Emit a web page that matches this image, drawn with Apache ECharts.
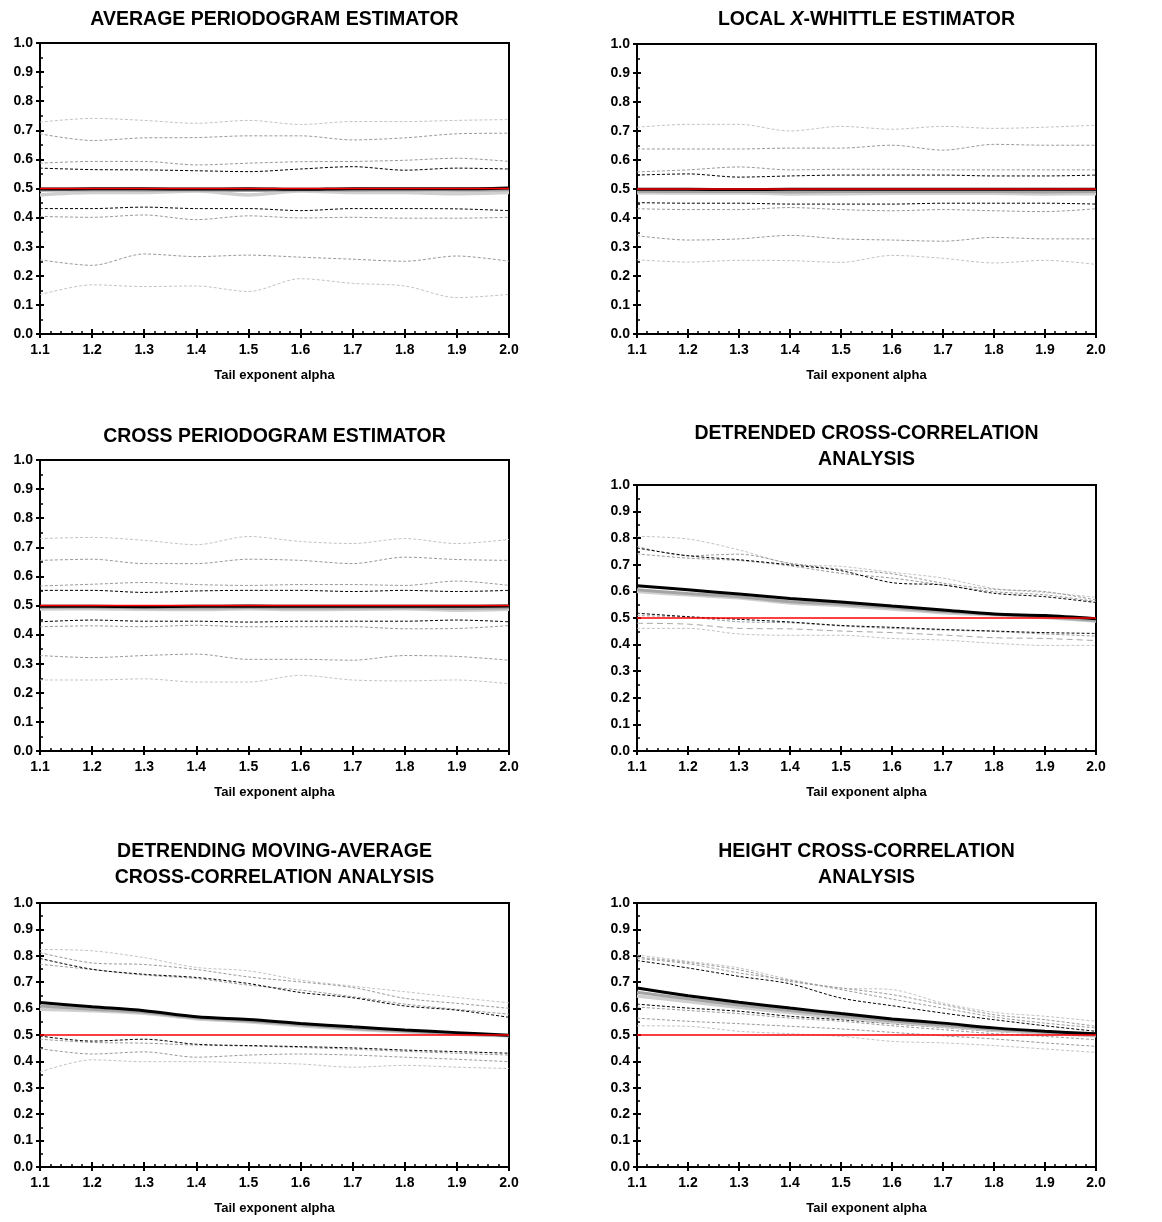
<!DOCTYPE html>
<html>
<head>
<meta charset="utf-8">
<script src="https://cdn.jsdelivr.net/npm/echarts@6/dist/echarts.min.js"></script>
<style>
html,body{margin:0;padding:0;background:#fff;}
#chart{width:1162px;height:1222px;}
</style>
</head>
<body>
<div id="chart"></div>
<script>
// ---------------- DATA ----------------
const ALPHA = [1.1, 1.2, 1.3, 1.4, 1.5, 1.6, 1.7, 1.8, 1.9, 2.0];
const TRUE_VALUE = [0.5, 0.5, 0.5, 0.5, 0.5, 0.5, 0.5, 0.5, 0.5, 0.5];
const X_AXIS_NAME = 'Tail exponent alpha';

// Average periodogram estimator
const APE_MEAN = [0.498, 0.499, 0.499, 0.498, 0.499, 0.497, 0.499, 0.499, 0.499, 0.502];
const APE_MED  = [0.494, 0.495, 0.494, 0.495, 0.493, 0.495, 0.494, 0.495, 0.494, 0.496];
const APE_ALT  = [0.478, 0.486, 0.486, 0.491, 0.478, 0.491, 0.486, 0.486, 0.482, 0.486];
const APE_U1 = [0.728, 0.741, 0.734, 0.724, 0.734, 0.720, 0.730, 0.730, 0.734, 0.737];
const APE_U2 = [0.688, 0.665, 0.674, 0.675, 0.681, 0.681, 0.667, 0.674, 0.688, 0.690];
const APE_U3 = [0.587, 0.593, 0.593, 0.581, 0.587, 0.592, 0.593, 0.597, 0.604, 0.593];
const APE_U4 = [0.570, 0.565, 0.564, 0.561, 0.558, 0.567, 0.575, 0.563, 0.570, 0.567];
const APE_L1 = [0.431, 0.431, 0.436, 0.431, 0.431, 0.424, 0.431, 0.431, 0.430, 0.424];
const APE_L2 = [0.404, 0.401, 0.409, 0.393, 0.406, 0.399, 0.401, 0.398, 0.398, 0.401];
const APE_L3 = [0.255, 0.236, 0.275, 0.266, 0.271, 0.264, 0.257, 0.250, 0.268, 0.250];
const APE_L4 = [0.135, 0.169, 0.163, 0.165, 0.146, 0.190, 0.174, 0.165, 0.125, 0.136];

// Local X-Whittle estimator
const LXW_MEAN = [0.499, 0.499, 0.498, 0.499, 0.499, 0.499, 0.499, 0.499, 0.499, 0.499];
const LXW_MED  = [0.492, 0.491, 0.492, 0.490, 0.491, 0.491, 0.492, 0.491, 0.490, 0.491];
const LXW_ALT  = [0.487, 0.486, 0.487, 0.483, 0.484, 0.485, 0.486, 0.485, 0.483, 0.484];
const LXW_U1 = [0.713, 0.723, 0.723, 0.700, 0.716, 0.706, 0.716, 0.709, 0.713, 0.720];
const LXW_U2 = [0.638, 0.638, 0.638, 0.641, 0.641, 0.651, 0.634, 0.654, 0.651, 0.651];
const LXW_U3 = [0.559, 0.566, 0.576, 0.566, 0.568, 0.568, 0.566, 0.566, 0.566, 0.566];
const LXW_U4 = [0.548, 0.552, 0.541, 0.545, 0.548, 0.548, 0.548, 0.545, 0.545, 0.548];
const LXW_L1 = [0.453, 0.451, 0.451, 0.448, 0.448, 0.448, 0.451, 0.451, 0.451, 0.448];
const LXW_L2 = [0.432, 0.429, 0.429, 0.436, 0.429, 0.425, 0.429, 0.425, 0.422, 0.432];
const LXW_L3 = [0.339, 0.324, 0.328, 0.340, 0.328, 0.324, 0.320, 0.333, 0.328, 0.328];
const LXW_L4 = [0.256, 0.248, 0.254, 0.253, 0.247, 0.271, 0.261, 0.245, 0.254, 0.240];

// Cross periodogram estimator
const CPE_MEAN = [0.497, 0.497, 0.496, 0.497, 0.498, 0.497, 0.497, 0.497, 0.497, 0.498];
const CPE_MED  = [0.493, 0.494, 0.492, 0.491, 0.493, 0.491, 0.492, 0.493, 0.490, 0.492];
const CPE_ALT  = [0.488, 0.489, 0.487, 0.486, 0.489, 0.486, 0.487, 0.489, 0.484, 0.487];
const CPE_U1 = [0.730, 0.734, 0.724, 0.709, 0.737, 0.720, 0.713, 0.730, 0.713, 0.727];
const CPE_U2 = [0.655, 0.659, 0.644, 0.644, 0.659, 0.655, 0.644, 0.666, 0.658, 0.655];
const CPE_U3 = [0.567, 0.573, 0.579, 0.572, 0.569, 0.572, 0.572, 0.569, 0.584, 0.569];
const CPE_U4 = [0.552, 0.552, 0.545, 0.550, 0.552, 0.552, 0.548, 0.552, 0.548, 0.552];
const CPE_L1 = [0.444, 0.450, 0.446, 0.446, 0.443, 0.446, 0.446, 0.446, 0.450, 0.444];
const CPE_L2 = [0.427, 0.430, 0.427, 0.432, 0.427, 0.427, 0.427, 0.420, 0.421, 0.431];
const CPE_L3 = [0.328, 0.321, 0.328, 0.333, 0.315, 0.315, 0.312, 0.328, 0.325, 0.312];
const CPE_L4 = [0.244, 0.244, 0.248, 0.237, 0.237, 0.260, 0.244, 0.241, 0.244, 0.231];

// Detrended cross-correlation analysis
const DCCA_MEAN = [0.621, 0.606, 0.590, 0.573, 0.560, 0.545, 0.530, 0.515, 0.509, 0.497];
const DCCA_MED  = [0.606, 0.592, 0.580, 0.561, 0.552, 0.539, 0.524, 0.514, 0.504, 0.491];
const DCCA_ALT  = [0.600, 0.587, 0.576, 0.556, 0.547, 0.534, 0.520, 0.512, 0.502, 0.489];
const DCCA_U1 = [0.807, 0.797, 0.756, 0.704, 0.694, 0.672, 0.650, 0.611, 0.596, 0.578];
const DCCA_U2 = [0.769, 0.734, 0.740, 0.706, 0.683, 0.666, 0.631, 0.608, 0.599, 0.568];
const DCCA_U3 = [0.763, 0.734, 0.719, 0.700, 0.678, 0.633, 0.624, 0.593, 0.580, 0.558];
const DCCA_U4 = [0.741, 0.725, 0.716, 0.696, 0.668, 0.650, 0.624, 0.599, 0.587, 0.562];
const DCCA_L1 = [0.518, 0.505, 0.495, 0.485, 0.472, 0.465, 0.457, 0.451, 0.445, 0.442];
const DCCA_L2 = [0.509, 0.503, 0.486, 0.482, 0.470, 0.461, 0.455, 0.449, 0.440, 0.432];
const DCCA_L3 = [0.480, 0.477, 0.461, 0.459, 0.451, 0.445, 0.436, 0.426, 0.423, 0.415];
const DCCA_L4 = [0.461, 0.461, 0.440, 0.435, 0.435, 0.423, 0.417, 0.405, 0.397, 0.397];

// Detrending moving-average cross-correlation analysis
const DMCA_MEAN = [0.623, 0.607, 0.592, 0.569, 0.559, 0.544, 0.531, 0.519, 0.509, 0.499];
const DMCA_MED  = [0.610, 0.598, 0.586, 0.565, 0.553, 0.539, 0.525, 0.515, 0.505, 0.497];
const DMCA_ALT  = [0.598, 0.592, 0.582, 0.562, 0.550, 0.535, 0.522, 0.512, 0.503, 0.497];
const DMCA_U1 = [0.824, 0.819, 0.793, 0.756, 0.743, 0.708, 0.685, 0.664, 0.642, 0.622];
const DMCA_U2 = [0.812, 0.773, 0.767, 0.748, 0.720, 0.701, 0.680, 0.639, 0.620, 0.601];
const DMCA_U3 = [0.790, 0.749, 0.730, 0.718, 0.695, 0.661, 0.641, 0.610, 0.594, 0.567];
const DMCA_U4 = [0.768, 0.748, 0.727, 0.714, 0.689, 0.670, 0.645, 0.617, 0.597, 0.579];
const DMCA_L1 = [0.496, 0.477, 0.484, 0.465, 0.460, 0.456, 0.451, 0.443, 0.437, 0.431];
const DMCA_L2 = [0.484, 0.472, 0.469, 0.462, 0.458, 0.453, 0.446, 0.438, 0.431, 0.424];
const DMCA_L3 = [0.448, 0.428, 0.436, 0.416, 0.424, 0.428, 0.424, 0.416, 0.408, 0.399];
const DMCA_L4 = [0.360, 0.406, 0.399, 0.399, 0.395, 0.390, 0.378, 0.385, 0.378, 0.373];

// Height cross-correlation analysis
const HXA_MEAN = [0.678, 0.649, 0.624, 0.602, 0.581, 0.561, 0.545, 0.527, 0.514, 0.505];
const HXA_MED  = [0.662, 0.637, 0.614, 0.593, 0.572, 0.554, 0.538, 0.522, 0.510, 0.499];
const HXA_ALT  = [0.648, 0.627, 0.605, 0.585, 0.566, 0.548, 0.533, 0.518, 0.507, 0.497];
const HXA_U1 = [0.803, 0.779, 0.754, 0.710, 0.678, 0.672, 0.621, 0.586, 0.571, 0.552];
const HXA_U2 = [0.795, 0.775, 0.747, 0.703, 0.678, 0.653, 0.615, 0.577, 0.558, 0.533];
const HXA_U3 = [0.790, 0.770, 0.735, 0.707, 0.672, 0.636, 0.602, 0.568, 0.545, 0.527];
const HXA_U4 = [0.782, 0.754, 0.722, 0.694, 0.640, 0.611, 0.583, 0.558, 0.535, 0.514];
const HXA_L1 = [0.617, 0.602, 0.590, 0.571, 0.558, 0.543, 0.529, 0.514, 0.505, 0.497];
const HXA_L2 = [0.606, 0.593, 0.581, 0.564, 0.552, 0.535, 0.520, 0.505, 0.495, 0.482];
const HXA_L3 = [0.564, 0.552, 0.543, 0.533, 0.523, 0.510, 0.497, 0.485, 0.470, 0.457];
const HXA_L4 = [0.535, 0.533, 0.514, 0.505, 0.495, 0.476, 0.470, 0.460, 0.447, 0.434];

const TITLES = [
  'AVERAGE PERIODOGRAM ESTIMATOR',
  'LOCAL X-WHITTLE ESTIMATOR',
  'CROSS PERIODOGRAM ESTIMATOR',
  'DETRENDED CROSS-CORRELATION\nANALYSIS',
  'DETRENDING MOVING-AVERAGE\nCROSS-CORRELATION ANALYSIS',
  'HEIGHT CROSS-CORRELATION\nANALYSIS'
];

// ---------------- LAYOUT / STYLE ----------------
const TEXT_FONT = 'Liberation Sans';
const GRIDS = [
  {left: 40,  top: 43,  width: 469, height: 291},
  {left: 637, top: 44,  width: 459, height: 290},
  {left: 40,  top: 460, width: 469, height: 291},
  {left: 637, top: 485, width: 459, height: 266},
  {left: 40,  top: 903, width: 469, height: 264},
  {left: 637, top: 903, width: 459, height: 264}
];
const TITLE_TOPS = [7, 7, 424, 421, 839, 839];

const PANELS = [
  {mean: APE_MEAN, med: APE_MED, alt: APE_ALT, q: [APE_U1, APE_U2, APE_U3, APE_U4, APE_L1, APE_L2, APE_L3, APE_L4],
   roles: ['light', 'gray', 'gray', 'black', 'black', 'gray', 'gray', 'light']},
  {mean: LXW_MEAN, med: LXW_MED, alt: LXW_ALT, q: [LXW_U1, LXW_U2, LXW_U3, LXW_U4, LXW_L1, LXW_L2, LXW_L3, LXW_L4],
   roles: ['light', 'gray', 'gray', 'black', 'black', 'gray', 'gray', 'light']},
  {mean: CPE_MEAN, med: CPE_MED, alt: CPE_ALT, q: [CPE_U1, CPE_U2, CPE_U3, CPE_U4, CPE_L1, CPE_L2, CPE_L3, CPE_L4],
   roles: ['light', 'gray', 'gray', 'black', 'black', 'gray', 'gray', 'light']},
  {mean: DCCA_MEAN, med: DCCA_MED, alt: DCCA_ALT, q: [DCCA_U1, DCCA_U2, DCCA_U3, DCCA_U4, DCCA_L1, DCCA_L2, DCCA_L3, DCCA_L4],
   roles: ['light', 'gray', 'black', 'gray', 'black', 'gray', 'long', 'light']},
  {mean: DMCA_MEAN, med: DMCA_MED, alt: DMCA_ALT, q: [DMCA_U1, DMCA_U2, DMCA_U3, DMCA_U4, DMCA_L1, DMCA_L2, DMCA_L3, DMCA_L4],
   roles: ['light', 'gray', 'black', 'gray', 'black', 'gray', 'gray', 'light']},
  {mean: HXA_MEAN, med: HXA_MED, alt: HXA_ALT, q: [HXA_U1, HXA_U2, HXA_U3, HXA_U4, HXA_L1, HXA_L2, HXA_L3, HXA_L4],
   roles: ['light', 'gray', 'gray', 'black', 'black', 'gray', 'gray', 'light']}
];

const ROLE_STYLE = {
  black: {color: '#000000', width: 1, type: [3, 2]},
  gray:  {color: '#9a9a9a', width: 1, type: [3, 2]},
  long:  {color: '#a8a8a8', width: 1, type: [6, 4]},
  light: {color: '#c4c4c4', width: 1, type: [3, 2]}
};

const pairs = arr => ALPHA.map((a, i) => [a, arr[i]]);

const title = [], grid = [], xAxis = [], yAxis = [], series = [];

PANELS.forEach((p, k) => {
  const g = GRIDS[k];
  grid.push({left: g.left, top: g.top, width: g.width, height: g.height,
    show: true, borderColor: '#000', borderWidth: 2, backgroundColor: 'transparent', containLabel: false});

  const cx = g.left + g.width / 2;
  if (k === 1) {
    title.push({
      text: '{b|LOCAL }{i|X}{b|-WHITTLE ESTIMATOR}',
      left: cx, top: TITLE_TOPS[k], textAlign: 'center', padding: 0,
      textStyle: {lineHeight: 26, rich: {
        b: {fontFamily: TEXT_FONT, fontWeight: 'bold', fontSize: 19.5, color: '#000', lineHeight: 26},
        i: {fontFamily: TEXT_FONT, fontWeight: 'bold', fontStyle: 'italic', fontSize: 19.5, color: '#000', lineHeight: 26}
      }}
    });
  } else {
    title.push({
      text: TITLES[k], left: cx, top: TITLE_TOPS[k], textAlign: 'center', padding: 0,
      textStyle: {fontFamily: TEXT_FONT, fontWeight: 'bold', fontSize: 19.5, color: '#000', lineHeight: 26}
    });
  }

  // primary x axis (inside ticks + minor ticks + labels)
  xAxis.push({
    type: 'value', gridIndex: k, position: 'bottom', min: 1.1, max: 2.0, interval: 0.1,
    name: X_AXIS_NAME, nameLocation: 'middle', nameGap: 35,
    nameTextStyle: {fontFamily: TEXT_FONT, fontWeight: 'bold', fontSize: 13, color: '#000'},
    axisLine: {show: true, onZero: false, lineStyle: {color: '#000', width: 2}},
    axisTick: {show: true, inside: true, length: 5, lineStyle: {color: '#000', width: 2}},
    minorTick: {show: true, splitNumber: 5, length: 3, lineStyle: {color: '#000', width: 1.5}},
    axisLabel: {margin: 9, fontFamily: TEXT_FONT, fontWeight: 'bold', fontSize: 14, color: '#000',
      formatter: v => v.toFixed(1)},
    splitLine: {show: false}, minorSplitLine: {show: false}
  });
  // secondary x axis (outside half of major ticks)
  xAxis.push({
    type: 'value', gridIndex: k, position: 'bottom', min: 1.1, max: 2.0, interval: 0.1,
    axisLine: {show: false, onZero: false},
    axisTick: {show: true, inside: false, length: 4, lineStyle: {color: '#000', width: 2}},
    axisLabel: {show: false}, splitLine: {show: false}
  });
  // primary y axis
  yAxis.push({
    type: 'value', gridIndex: k, position: 'left', min: 0, max: 1, interval: 0.1,
    axisLine: {show: true, onZero: false, lineStyle: {color: '#000', width: 2}},
    axisTick: {show: true, inside: true, length: 4, lineStyle: {color: '#000', width: 2}},
    minorTick: {show: true, splitNumber: 2, length: 3, lineStyle: {color: '#000', width: 1.5}},
    axisLabel: {margin: 7, fontFamily: TEXT_FONT, fontWeight: 'bold', fontSize: 14, color: '#000',
      formatter: v => v.toFixed(1)},
    splitLine: {show: false}, minorSplitLine: {show: false}
  });
  // secondary y axis
  yAxis.push({
    type: 'value', gridIndex: k, position: 'left', min: 0, max: 1, interval: 0.1,
    axisLine: {show: false, onZero: false},
    axisTick: {show: true, inside: false, length: 4, lineStyle: {color: '#000', width: 2}},
    axisLabel: {show: false}, splitLine: {show: false}
  });

  const xi = 2 * k, yi = 2 * k;
  const base = {type: 'line', xAxisIndex: xi, yAxisIndex: yi, showSymbol: false, symbol: 'none',
    smooth: 0.3, silent: true, animation: false};

  p.q.forEach((arr, j) => {
    const st = ROLE_STYLE[p.roles[j]];
    series.push(Object.assign({}, base, {
      data: pairs(arr), z: p.roles[j] === 'black' ? 3 : 2,
      lineStyle: {color: st.color, width: st.width, type: st.type}
    }));
  });
  series.push(Object.assign({}, base, {data: pairs(p.alt), z: 4,
    lineStyle: {color: '#cfcfcf', width: 3.5}}));
  series.push(Object.assign({}, base, {data: pairs(p.med), z: 4,
    lineStyle: {color: '#a4a4a4', width: 3}}));
  series.push(Object.assign({}, base, {data: pairs(p.mean), z: 6,
    lineStyle: {color: '#000000', width: 3}}));
  series.push(Object.assign({}, base, {data: pairs(TRUE_VALUE), z: 7, smooth: false,
    lineStyle: {color: '#ff0000', width: 1.5}}));
});

const chart = echarts.init(document.getElementById('chart'), null, {renderer: 'canvas'});
chart.setOption({animation: false, backgroundColor: '#fff', title, grid, xAxis, yAxis, series});
</script>
</body>
</html>
